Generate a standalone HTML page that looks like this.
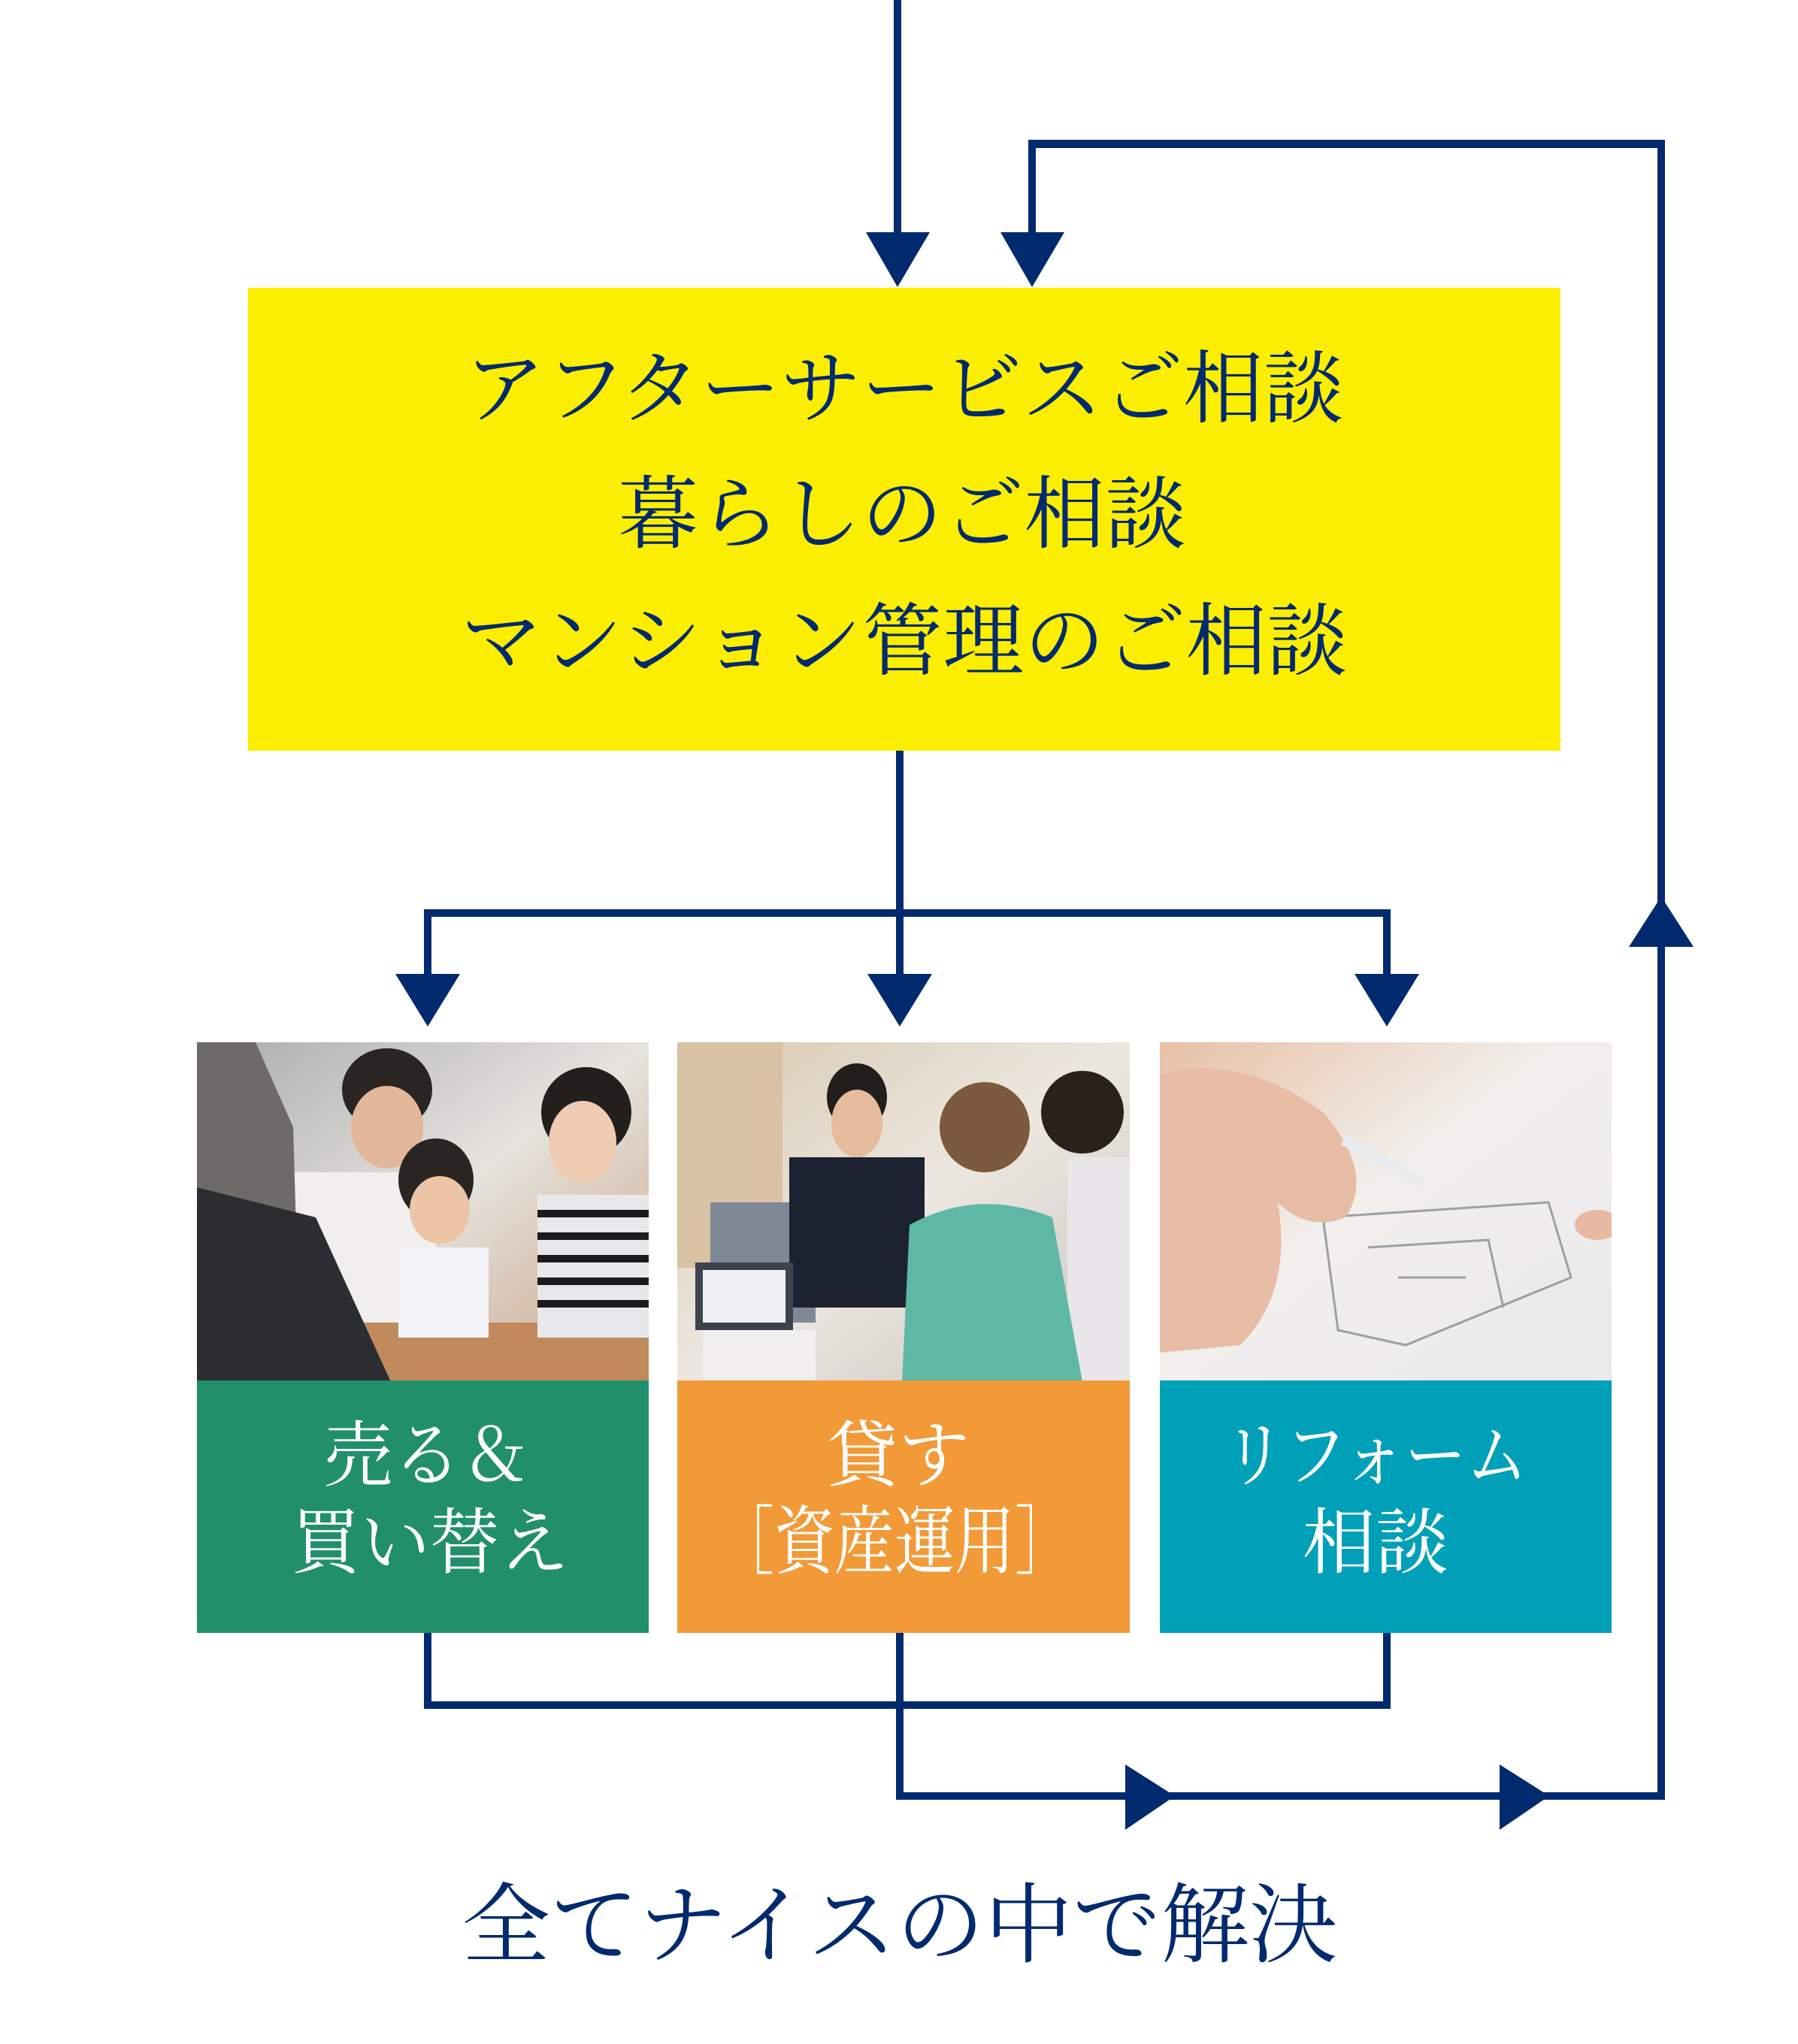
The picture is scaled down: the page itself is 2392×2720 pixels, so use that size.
<!DOCTYPE html>
<html><head><meta charset="utf-8"><style>
html,body{margin:0;padding:0;background:#fff;}
svg{display:block;}
text{font-family:"Liberation Serif","Noto Serif CJK JP","Noto Serif CJK SC",serif;}
</style></head><body>
<svg width="2392" height="2720" viewBox="0 0 2392 2720" xmlns="http://www.w3.org/2000/svg">
<defs>
<linearGradient id="p1" x1="0" y1="0" x2="1" y2="1"><stop offset="0" stop-color="#a9acad"/><stop offset="0.5" stop-color="#e6e3de"/><stop offset="1" stop-color="#c9a285"/></linearGradient>
<linearGradient id="p2" x1="0" y1="0" x2="1" y2="1"><stop offset="0" stop-color="#d8c8b0"/><stop offset="0.5" stop-color="#ece7df"/><stop offset="1" stop-color="#c8c5c0"/></linearGradient>
<linearGradient id="p3" x1="0" y1="0" x2="1" y2="1"><stop offset="0" stop-color="#e7c0a5"/><stop offset="0.45" stop-color="#f2efec"/><stop offset="1" stop-color="#e9e9eb"/></linearGradient>
<clipPath id="c1"><rect x="262" y="1387" width="601" height="452"/></clipPath>
<clipPath id="c2"><rect x="901" y="1387" width="602" height="452"/></clipPath>
<clipPath id="c3"><rect x="1543" y="1387" width="601" height="452"/></clipPath>
</defs>
<g fill="#022a6e" stroke="none">
<rect x="1189" y="0" width="10" height="312"/>
<polygon points="1152,309 1237,309 1194,382"/>
<rect x="1368" y="186" width="10" height="126"/>
<polygon points="1331,309 1416,309 1373,382"/>
<rect x="1368" y="186" width="847" height="11"/>
<rect x="2205" y="186" width="10" height="2209"/>
<polygon points="2167,1260 2253,1260 2210,1193"/>
<rect x="1192" y="998" width="10" height="300"/>
<rect x="564" y="1210" width="1286" height="10"/>
<rect x="564" y="1210" width="10" height="90"/>
<rect x="1840" y="1210" width="10" height="90"/>
<polygon points="526,1296 612,1296 569,1366"/>
<polygon points="1154,1296 1240,1296 1197,1366"/>
<polygon points="1802,1296 1888,1296 1845,1366"/>
<rect x="564" y="2170" width="10" height="104"/>
<rect x="1840" y="2170" width="10" height="104"/>
<rect x="564" y="2264" width="1286" height="10"/>
<rect x="1192" y="2170" width="10" height="225"/>
<rect x="1192" y="2385" width="1023" height="10"/>
<polygon points="1497,2348 1497,2435 1563,2390"/>
<polygon points="1995,2348 1995,2435 2061,2390"/>
</g>
<rect x="330" y="383" width="1746" height="616" fill="#fcee00"/>
<g fill="#022a6e" font-size="106" text-anchor="middle">
<text x="1203" y="554" textLength="1170" lengthAdjust="spacingAndGlyphs">アフターサービスご相談</text>
<text x="1200" y="721" textLength="757" lengthAdjust="spacingAndGlyphs">暮らしのご相談</text>
<text x="1203" y="890" textLength="1180" lengthAdjust="spacingAndGlyphs">マンション管理のご相談</text>
</g>
<!-- photo 1 -->
<g clip-path="url(#c1)">
<rect x="262" y="1387" width="601" height="452" fill="url(#p1)"/>
<rect x="262" y="1760" width="601" height="79" fill="#c08a5c"/>
<rect x="380" y="1560" width="200" height="200" fill="#f1efee"/>
<ellipse cx="515" cy="1450" rx="60" ry="55" fill="#2a2522"/>
<ellipse cx="515" cy="1500" rx="48" ry="55" fill="#e2b79a"/>
<ellipse cx="580" cy="1570" rx="50" ry="55" fill="#2a2522"/>
<ellipse cx="585" cy="1610" rx="40" ry="45" fill="#ecc4a6"/>
<rect x="530" y="1660" width="120" height="120" fill="#f4f4f6"/>
<ellipse cx="780" cy="1480" rx="60" ry="60" fill="#231f1d"/>
<ellipse cx="775" cy="1520" rx="45" ry="55" fill="#eecbb1"/>
<rect x="715" y="1590" width="148" height="190" fill="#e8e8ea"/>
<g fill="#1b1b1d"><rect x="715" y="1610" width="148" height="10"/><rect x="715" y="1640" width="148" height="10"/><rect x="715" y="1670" width="148" height="10"/><rect x="715" y="1700" width="148" height="10"/><rect x="715" y="1730" width="148" height="10"/></g>
<polygon points="262,1387 340,1387 390,1500 400,1839 262,1839" fill="#6e6a68"/>
<polygon points="262,1580 420,1620 520,1839 262,1839" fill="#2b2d33"/>
</g>
<!-- photo 2 -->
<g clip-path="url(#c2)">
<rect x="901" y="1387" width="602" height="452" fill="url(#p2)"/>
<rect x="901" y="1387" width="140" height="300" fill="#d9c2a4"/>
<rect x="945" y="1600" width="140" height="160" fill="#7f8896"/>
<ellipse cx="1140" cy="1460" rx="40" ry="45" fill="#221e1c"/>
<ellipse cx="1140" cy="1495" rx="34" ry="45" fill="#e5bc9c"/>
<rect x="1050" y="1540" width="180" height="200" fill="#1d2230"/>
<rect x="925" y="1680" width="130" height="90" fill="#3d4450"/>
<rect x="935" y="1690" width="110" height="70" fill="#eef0f3"/>
<rect x="935" y="1770" width="150" height="69" fill="#f1f0ee"/>
<ellipse cx="1310" cy="1500" rx="60" ry="60" fill="#7b5a3e"/>
<ellipse cx="1440" cy="1480" rx="55" ry="55" fill="#2a211c"/>
<rect x="1420" y="1540" width="83" height="299" fill="#e8e6e8"/>
<path d="M1210,1630 Q1300,1580 1400,1620 L1440,1839 L1200,1839 Z" fill="#5fb7a6"/>
</g>
<!-- photo 3 -->
<g clip-path="url(#c3)">
<rect x="1543" y="1387" width="601" height="452" fill="url(#p3)"/>
<g stroke="#9aa0a3" stroke-width="3" fill="none">
<path d="M1760,1620 L2060,1600 L2090,1700 L1870,1790 L1780,1770 Z"/>
<path d="M1820,1660 L1980,1650 L2000,1740 M1860,1700 L1950,1700"/>
</g>
<path d="M1543,1430 Q1650,1400 1760,1480 Q1830,1560 1790,1620 Q1740,1640 1700,1600 Q1720,1720 1650,1790 L1543,1800 Z" fill="#e7bda6"/>
<rect x="1780" y="1538" width="120" height="14" fill="#e8ecef" transform="rotate(28 1840 1545)"/>
<ellipse cx="2125" cy="1630" rx="30" ry="20" fill="#e8b9a2"/>
</g>
<rect x="262" y="1837" width="601" height="336" fill="#21906a"/>
<rect x="901" y="1837" width="602" height="336" fill="#f29a38"/>
<rect x="1543" y="1837" width="601" height="336" fill="#00a0b8"/>
<g fill="#fff" font-size="96" text-anchor="middle">
<text x="568" y="1970" textLength="275" lengthAdjust="spacingAndGlyphs">売る＆</text>
<text x="572" y="2086" textLength="370" lengthAdjust="spacingAndGlyphs">買い替え</text>
<text x="1195" y="1970" textLength="190" lengthAdjust="spacingAndGlyphs">貸す</text>
<text x="1190" y="2086" textLength="480" lengthAdjust="spacingAndGlyphs" font-size="100">［資産運用］</text>
<text x="1830" y="1970" textLength="405" lengthAdjust="spacingAndGlyphs">リフォーム</text>
<text x="1830" y="2086" textLength="195" lengthAdjust="spacingAndGlyphs">相談</text>
</g>
<text x="1197" y="2602" font-size="116" fill="#022a6e" text-anchor="middle" textLength="1165" lengthAdjust="spacingAndGlyphs">全てナイスの中で解決</text>
</svg>
</body></html>
